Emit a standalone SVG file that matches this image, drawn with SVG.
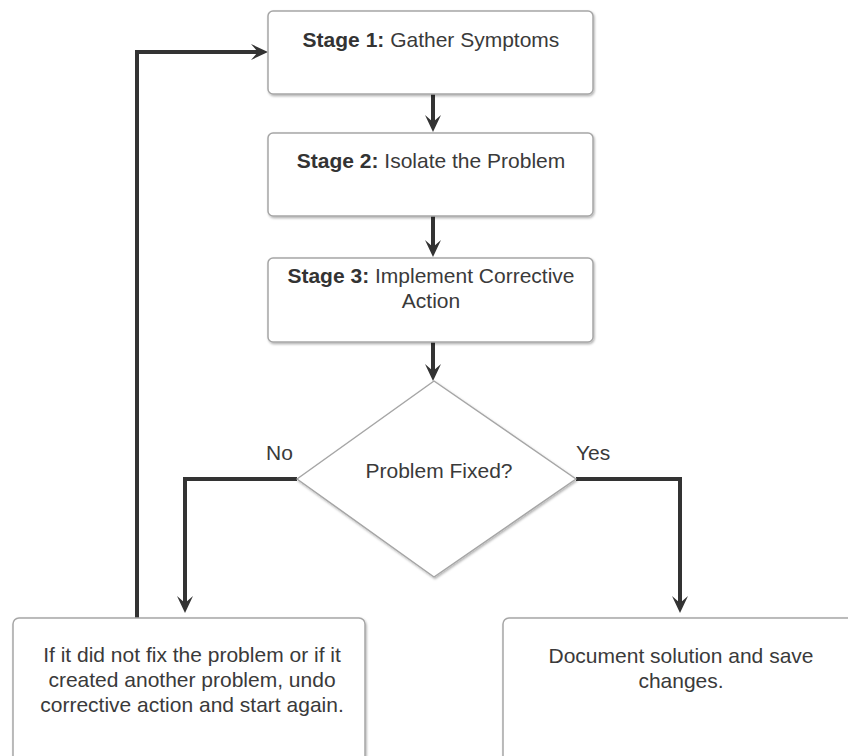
<svg xmlns="http://www.w3.org/2000/svg" width="848" height="756" viewBox="0 0 848 756">
<defs>
<style>
.box{fill:#fff;stroke:#a6a6a6;stroke-width:1.5;filter:url(#sh)}
.t{font-family:"Liberation Sans",Arial,sans-serif;font-size:21px;fill:#3a3a3a;text-anchor:middle}
.b{font-weight:bold;fill:#333}
.lbl{font-family:"Liberation Sans",Arial,sans-serif;font-size:21px;fill:#3a3a3a}
.c{fill:none;stroke:#333;stroke-width:4;marker-end:url(#ah)}
</style>
<filter id="sh" x="-10%" y="-10%" width="120%" height="130%">
<feDropShadow dx="1" dy="1.5" stdDeviation="1.2" flood-color="#000" flood-opacity="0.3"/>
</filter>
<marker id="ah" markerUnits="userSpaceOnUse" viewBox="-18 -10 19 20" refX="-10" refY="0" markerWidth="19" markerHeight="20" orient="auto">
<path d="M0,0 L-17,-8 L-10,0 L-17,8 Z" fill="#333"/>
</marker>
</defs>
<rect width="848" height="756" fill="#fff"/>
<g id="connectors">
<path class="c" d="M433,94 V122"/>
<path class="c" d="M433,216 V247"/>
<path class="c" d="M433,342 V371"/>
<path class="c" d="M297,479 H185 V603"/>
<path class="c" d="M576,479 H680 V603"/>
<path class="c" d="M137,618 V52 H258"/>
</g>
<g id="stage1">
<rect class="box" x="268" y="11" width="325" height="83" rx="5"/>
<text class="t" x="431" y="47"><tspan class="b">Stage 1:</tspan> Gather Symptoms</text>
</g>
<g id="stage2">
<rect class="box" x="268" y="133" width="325" height="83" rx="5"/>
<text class="t" x="431" y="168"><tspan class="b">Stage 2:</tspan> Isolate the Problem</text>
</g>
<g id="stage3">
<rect class="box" x="268" y="258" width="325" height="84" rx="5"/>
<text class="t" x="431" y="283"><tspan class="b">Stage 3:</tspan> Implement Corrective</text>
<text class="t" x="431" y="308">Action</text>
</g>
<g id="decision">
<path class="box" d="M434,381 L576,479 L434,577 L297,479 Z" stroke-linejoin="round"/>
<text class="t" x="439" y="478">Problem Fixed?</text>
</g>
<g id="labels">
<text class="lbl" x="266" y="460">No</text>
<text class="lbl" x="576" y="460">Yes</text>
</g>
<g id="undo">
<rect class="box" x="13" y="618" width="352" height="150" rx="6"/>
<text class="t" x="192" y="662">If it did not fix the problem or if it</text>
<text class="t" x="192" y="687">created another problem, undo</text>
<text class="t" x="192" y="712">corrective action and start again.</text>
</g>
<g id="document">
<rect class="box" x="503" y="618" width="356" height="150" rx="6"/>
<text class="t" x="681" y="663">Document solution and save</text>
<text class="t" x="681" y="688">changes.</text>
</g>
</svg>
